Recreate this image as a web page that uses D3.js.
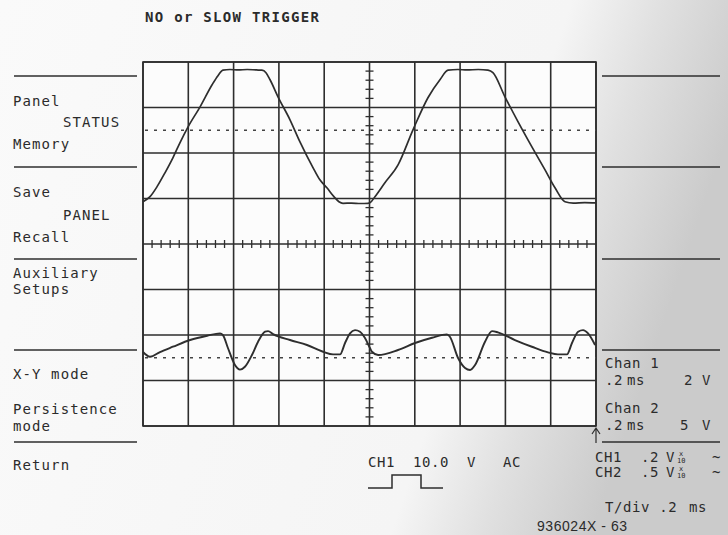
<!DOCTYPE html>
<html>
<head>
<meta charset="utf-8">
<script src="https://cdn.jsdelivr.net/npm/d3@7"></script>
<style>
  body { margin: 0; background: #fff; }
  svg { display: block; }
  text { font-family: "DejaVu Sans Mono", monospace; fill: #2b2b2b; }
</style>
</head>
<body>
<div id="scope"></div>
<script>
'use strict';

// screen: 10 div x 8 div, 0.2 ms/div
var timeDivs = d3.range(0, 2.0001, 0.2);
var voltDivs = d3.range(-4, 4.0001, 1);

// channel settings (V/div) and reference level (div from centre)
var ch1VoltsPerDiv = 2, ch1Ref = 2.5;
var ch2VoltsPerDiv = 5, ch2Ref = -2.5;

// channel 1 trace: time (ms), volts
var ch1Time = [0, 0.031, 0.062, 0.097, 0.132, 0.163, 0.199, 0.252, 0.305, 0.331, 0.353,
  0.384, 0.42, 0.46, 0.5, 0.525, 0.543, 0.561, 0.596, 0.649, 0.693, 0.751, 0.781, 0.812,
  0.843, 0.865, 0.883, 0.92, 0.96, 0.993, 1.002, 1.024, 1.068, 1.126, 1.192, 1.258, 1.311,
  1.347, 1.39, 1.43, 1.48, 1.523, 1.545, 1.598, 1.656, 1.717, 1.775, 1.819, 1.863, 1.9,
  1.95, 2.0];
var ch1Volts = [-3.14, -2.92, -2.48, -1.87, -1.21, -0.55, 0.15, 1.03, 2.0, 2.4, 2.64,
  2.67, 2.65, 2.67, 2.65, 2.64, 2.53, 2.22, 1.47, 0.46, -0.51, -1.65, -2.18, -2.53,
  -2.92, -3.14, -3.21, -3.2, -3.22, -3.21, -3.19, -2.92, -2.31, -1.52, 0.02, 1.43, 2.22,
  2.64, 2.67, 2.65, 2.67, 2.64, 2.53, 1.47, 0.37, -0.73, -1.74, -2.53, -3.14, -3.2,
  -3.18, -3.19];

// channel 2 trace: time (ms), volts
var ch2Time = [0, 0.031, 0.075, 0.132, 0.208, 0.283, 0.34, 0.353, 0.375, 0.406, 0.428,
  0.45, 0.481, 0.508, 0.539, 0.552, 0.574, 0.649, 0.724, 0.795, 0.839, 0.87, 0.892,
  0.914, 0.936, 0.958, 0.98, 1.002, 1.011, 1.038, 1.126, 1.201, 1.276, 1.342, 1.355,
  1.391, 1.422, 1.444, 1.466, 1.51, 1.541, 1.567, 1.642, 1.717, 1.788, 1.832, 1.872,
  1.894, 1.921, 1.943, 1.965, 1.996];
var ch2Volts = [0.63, 0.11, 0.63, 1.21, 1.95, 2.42, 2.68, 2.49, 1.07, -0.8, -1.3,
  -0.99, 0.3, 1.76, 2.86, 2.93, 2.6, 1.95, 1.4, 0.66, 0.37, 0.37, 1.62,
  2.68, 3.04, 2.86, 2.16, 1.07, 0.66, 0.3, 0.85, 1.62, 2.2, 2.57, 2.31,
  -0.03, -1.13, -1.35, -0.8, 1.76, 2.93, 2.79, 1.95, 1.21, 0.59, 0.37, 0.37,
  1.62, 2.86, 3.04, 2.68, 1.4];

// soft key menus
var leftMenu = [
  {t: "Panel", x: 13, y: 106}, {t: "STATUS", x: 63, y: 127}, {t: "Memory", x: 13, y: 149},
  {t: "Save", x: 13, y: 197}, {t: "PANEL", x: 63, y: 220}, {t: "Recall", x: 13, y: 242},
  {t: "Auxiliary", x: 13, y: 278}, {t: "Setups", x: 13, y: 294},
  {t: "X-Y mode", x: 13, y: 379}, {t: "Persistence", x: 13, y: 414}, {t: "mode", x: 13, y: 431},
  {t: "Return", x: 13, y: 470}
];
var menuLines = [76, 167, 259, 350, 442];

var readouts = [
  {t: "Chan 1", x: 605, y: 368}, {t: ".2", x: 605, y: 385}, {t: "ms", x: 627, y: 385},
  {t: "2", x: 684, y: 385}, {t: "V", x: 702, y: 385},
  {t: "Chan 2", x: 605, y: 413}, {t: ".2", x: 605, y: 430}, {t: "ms", x: 627, y: 430},
  {t: "5", x: 680, y: 430}, {t: "V", x: 702, y: 430},
  {t: "CH1", x: 595, y: 462}, {t: ".2", x: 641, y: 462}, {t: "V", x: 666, y: 462}, {t: "~", x: 712, y: 462},
  {t: "CH2", x: 595, y: 477}, {t: ".5", x: 641, y: 477}, {t: "V", x: 666, y: 477}, {t: "~", x: 712, y: 477},
  {t: "T/div .2", x: 605, y: 512}, {t: "ms", x: 689, y: 512},
  {t: "CH1", x: 368, y: 467}, {t: "10.0", x: 413, y: 467}, {t: "V", x: 467, y: 467}, {t: "AC", x: 503, y: 467}
];

var W = 728, H = 535;
var svg = d3.select("#scope").append("svg").attr("width", W).attr("height", H);

// paper background, greyer toward the right edge
var defs = svg.append("defs");
var grad = defs.append("linearGradient").attr("id", "paper").attr("x1", 0).attr("x2", 1).attr("y1", 0).attr("y2", 0.25);
grad.append("stop").attr("offset", "0").attr("stop-color", "#fafafa");
grad.append("stop").attr("offset", "0.74").attr("stop-color", "#f5f5f5");
grad.append("stop").attr("offset", "0.86").attr("stop-color", "#e0e0e0");
grad.append("stop").attr("offset", "1").attr("stop-color", "#cbcbcb");
svg.append("rect").attr("width", W).attr("height", H).attr("fill", "url(#paper)");

var x = d3.scaleLinear().domain([0, 2]).range([143, 596]);
var y = d3.scaleLinear().domain([-4, 4]).range([426, 62]);
var ink = "#2e2e2e";

// graticule
var grid = svg.append("g").attr("stroke", ink).attr("stroke-width", 1.6);
grid.append("rect").attr("x", x(0)).attr("y", y(4)).attr("width", x(2) - x(0)).attr("height", y(-4) - y(4))
  .attr("fill", "#fcfcfc");
grid.selectAll(".vx").data(timeDivs).enter().append("line")
  .attr("x1", d => x(d)).attr("x2", d => x(d)).attr("y1", y(4)).attr("y2", y(-4));
grid.selectAll(".hy").data(voltDivs).enter().append("line")
  .attr("x1", x(0)).attr("x2", x(2)).attr("y1", d => y(d)).attr("y2", d => y(d));

// minor ticks on the centre axes
var minorT = d3.range(0, 2.0001, 0.04).filter(d => Math.abs(d / 0.2 - Math.round(d / 0.2)) > 1e-6);
var minorV = d3.range(-4, 4.0001, 0.2).filter(d => Math.abs(d - Math.round(d)) > 1e-6);
var ticks = svg.append("g").attr("stroke", ink).attr("stroke-width", 1.3);
ticks.selectAll(".mt").data(minorT).enter().append("line")
  .attr("x1", d => x(d)).attr("x2", d => x(d)).attr("y1", y(0) - 4).attr("y2", y(0) + 4);
ticks.selectAll(".mv").data(minorV).enter().append("line")
  .attr("x1", x(1) - 4).attr("x2", x(1) + 4).attr("y1", d => y(d)).attr("y2", d => y(d));

// channel reference levels (dotted)
svg.append("g").selectAll("line").data([ch1Ref, ch2Ref]).enter().append("line")
  .attr("x1", x(0) + 2).attr("x2", x(2)).attr("y1", d => y(d)).attr("y2", d => y(d))
  .attr("stroke", "#444").attr("stroke-width", 1.6).attr("stroke-dasharray", "3,6");

// traces
var line = d3.line().x(d => x(d[0])).y(d => y(d[1])).curve(d3.curveMonotoneX);
var ch1 = d3.zip(ch1Time, ch1Volts.map(v => ch1Ref + v / ch1VoltsPerDiv));
var ch2 = d3.zip(ch2Time, ch2Volts.map(v => ch2Ref + v / ch2VoltsPerDiv));
svg.append("path").datum(ch1).attr("d", line).attr("fill", "none").attr("stroke", ink).attr("stroke-width", 1.7);
svg.append("path").datum(ch2).attr("d", line).attr("fill", "none").attr("stroke", ink).attr("stroke-width", 1.9);

// title
svg.append("text").attr("x", 145).attr("y", 22).attr("font-weight", "bold").attr("font-size", 14)
  .attr("letter-spacing", 1.3).text("NO or SLOW TRIGGER");

// soft key separators
var sep = svg.append("g").attr("stroke", ink).attr("stroke-width", 1.5);
sep.selectAll(".l").data(menuLines).enter().append("line")
  .attr("x1", 14).attr("x2", 137).attr("y1", d => d).attr("y2", d => d);
sep.selectAll(".r").data(menuLines).enter().append("line")
  .attr("x1", 602).attr("x2", 720).attr("y1", d => d).attr("y2", d => d);

svg.append("g").selectAll("text").data(leftMenu).enter().append("text")
  .attr("x", d => d.x).attr("y", d => d.y).attr("font-size", 14).attr("letter-spacing", 1.1)
  .text(d => d.t);

svg.append("g").selectAll("text").data(readouts).enter().append("text")
  .attr("x", d => d.x).attr("y", d => d.y).attr("font-size", 14).attr("letter-spacing", 0.6)
  .text(d => d.t);

// x/10 probe marks
[462, 477].forEach(function(b) {
  svg.append("text").attr("x", 679).attr("y", b - 6).attr("font-size", 7).text("x");
  svg.append("text").attr("x", 677).attr("y", b + 1).attr("font-size", 7).text("10");
});

// trigger slope symbol and trigger position arrow
svg.append("path").attr("d", "M368,488H392V475H421V488H443")
  .attr("fill", "none").attr("stroke", ink).attr("stroke-width", 1.5);
svg.append("path").attr("d", "M596,443V429M592,434L596,428L600,434")
  .attr("fill", "none").attr("stroke", ink).attr("stroke-width", 1.2);

// figure number
svg.append("text").attr("x", 537).attr("y", 531).attr("font-size", 14)
  .style("font-family", "'Liberation Sans Narrow', 'Liberation Sans', sans-serif")
  .attr("textLength", 90).text("936024X - 63");
</script>
</body>
</html>
